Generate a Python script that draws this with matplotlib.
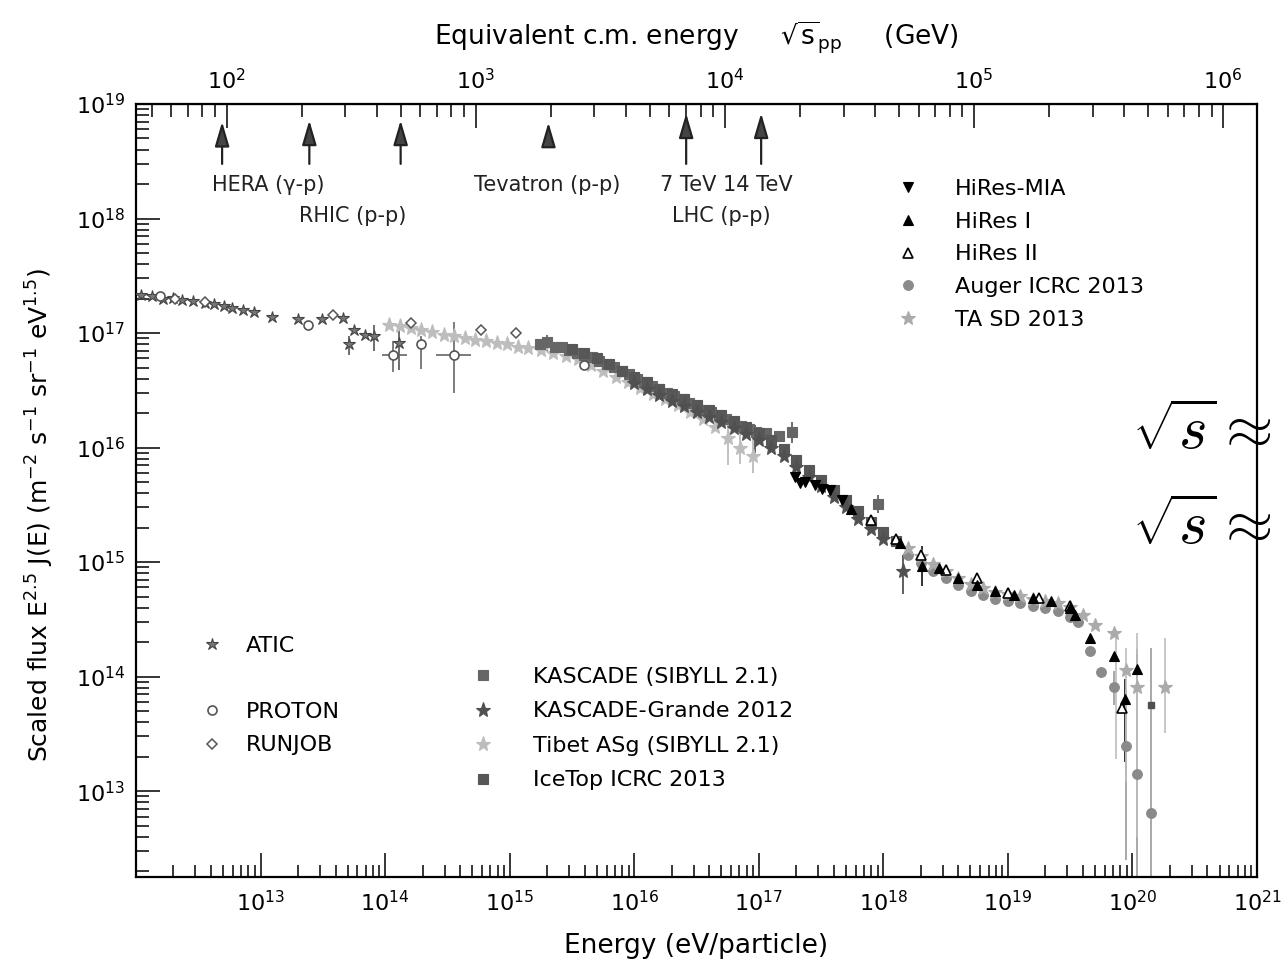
import numpy as np
import matplotlib
matplotlib.use('Agg')
import matplotlib.pyplot as plt
from matplotlib.lines import Line2D
from matplotlib.ticker import LogLocator, NullFormatter, FuncFormatter

plt.rcParams['font.family'] = ['DejaVu Sans']
plt.rcParams['mathtext.fontset'] = 'dejavusans'

# ---------------- data: log10(E / eV) and log10(E^2.5 J(E)) ----------------
atic_logE = [12.04, 12.13, 12.22, 12.30, 12.37, 12.46, 12.55, 12.63, 12.71, 12.77, 12.86, 12.95,
             13.09, 13.30, 13.49, 13.66, 13.71, 13.75, 13.84, 13.91, 14.11]
atic_logF = [17.33, 17.32, 17.30, 17.31, 17.29, 17.28, 17.26, 17.25, 17.24, 17.22, 17.20, 17.18,
             17.14, 17.12, 17.12, 17.13, 16.90, 17.03, 16.98, 16.97, 16.91]
atic_err_logE = [13.71, 13.91, 14.11]
atic_err_hi = [16.97, 17.07, 17.06]
atic_err_lo = [16.81, 16.84, 16.68]

proton_logE = [12.19, 13.38, 14.06, 14.29, 14.55, 15.60]
proton_logF = [17.32, 17.07, 16.81, 16.90, 16.81, 16.72]
proton_err_logE = [14.06, 14.29, 14.55]
proton_err_hi = [16.93, 16.97, 17.10]
proton_err_lo = [16.66, 16.69, 16.48]
proton_xerr_logF = [16.81, 16.81]
proton_xerr_lo = [13.975, 14.41]
proton_xerr_hi = [14.175, 14.69]

runjob_logE = [12.31, 12.55, 13.58, 14.21, 14.77, 15.05]
runjob_logF = [17.30, 17.27, 17.16, 17.09, 17.03, 17.00]

tibet_logE = [14.03, 14.12, 14.21, 14.29, 14.38, 14.47, 14.55, 14.64, 14.72, 14.81, 14.90, 14.98,
              15.07, 15.15, 15.25, 15.35, 15.45, 15.55, 15.65, 15.75, 15.85, 15.95, 16.05, 16.15,
              16.25, 16.35, 16.45, 16.55, 16.65, 16.75, 16.85, 16.95]
tibet_logF = [17.07, 17.06, 17.04, 17.03, 17.01, 16.98, 16.97, 16.96, 16.94, 16.93, 16.91, 16.90,
              16.88, 16.87, 16.85, 16.83, 16.80, 16.77, 16.72, 16.67, 16.62, 16.57, 16.52, 16.47,
              16.42, 16.37, 16.31, 16.25, 16.18, 16.08, 16.00, 15.93]
tibet_err_logE = [16.75, 16.85, 16.95]
tibet_err_hi = [16.23, 16.16, 16.10]
tibet_err_lo = [15.85, 15.86, 15.78]

kascade_logE = [15.24, 15.30, 15.36, 15.42, 15.48, 15.54, 15.60, 15.66, 15.72, 15.78, 15.84, 15.90,
                15.96, 16.02, 16.08, 16.14, 16.20, 16.26, 16.32, 16.38, 16.44, 16.50, 16.56, 16.62,
                16.68, 16.74, 16.80, 16.86, 16.92, 16.98, 17.06, 17.16, 17.27, 17.96]
kascade_logF = [16.90, 16.92, 16.88, 16.88, 16.85, 16.83, 16.81, 16.79, 16.76, 16.73, 16.70, 16.67,
                16.64, 16.60, 16.57, 16.54, 16.51, 16.48, 16.45, 16.42, 16.39, 16.36, 16.33, 16.31,
                16.28, 16.25, 16.22, 16.19, 16.16, 16.14, 16.13, 16.10, 16.14, 15.51]
kascade_err_logE = [15.30, 17.27, 17.96]
kascade_err_hi = [16.98, 16.22, 15.59]
kascade_err_lo = [16.84, 16.04, 15.43]

icetop_logE = [15.5, 15.6, 15.7, 15.8, 15.9, 16.0, 16.1, 16.2, 16.3, 16.4, 16.5, 16.6, 16.7, 16.8,
               16.9, 17.0, 17.1, 17.2, 17.3, 17.4, 17.5, 17.6, 17.7, 17.8, 17.9, 18.0, 18.1]
icetop_logF = [16.86, 16.83, 16.78, 16.73, 16.67, 16.62, 16.57, 16.51, 16.47, 16.42, 16.37, 16.33,
               16.28, 16.23, 16.18, 16.13, 16.07, 15.99, 15.89, 15.80, 15.72, 15.63, 15.54, 15.45,
               15.35, 15.26, 15.18]

kg_logE = [16.0, 16.1, 16.2, 16.3, 16.4, 16.5, 16.6, 16.7, 16.8, 16.9, 17.0, 17.1, 17.2, 17.3,
           17.4, 17.5, 17.6, 17.7, 17.8, 17.9, 18.0, 18.16]
kg_logF = [16.56, 16.51, 16.46, 16.41, 16.36, 16.31, 16.27, 16.22, 16.17, 16.12, 16.07, 16.00,
           15.93, 15.83, 15.74, 15.66, 15.57, 15.48, 15.38, 15.29, 15.20, 14.92]
kg_err_logE = [16.97, 18.16]
kg_err_hi = [16.20, 15.06]
kg_err_lo = [15.95, 14.72]

hiresmia_logE = [17.29, 17.33, 17.37, 17.45, 17.51, 17.57, 17.67]
hiresmia_logF = [15.74, 15.69, 15.70, 15.67, 15.64, 15.63, 15.54]

hires1_logE = [17.74, 18.13, 18.31, 18.45, 18.60, 18.75, 18.90, 19.05, 19.20, 19.35, 19.50, 19.54,
               19.66, 19.85, 19.94, 20.04]
hires1_logF = [15.46, 15.17, 14.97, 14.95, 14.86, 14.80, 14.75, 14.71, 14.69, 14.66, 14.60, 14.54,
               14.34, 14.18, 13.80, 14.07]
hires1_err_logE = [18.31, 19.94, 20.04]
hires1_err_hi = [15.14, 13.98, 14.20]
hires1_err_lo = [14.79, 13.25, 13.92]

hires2_logE = [17.90, 18.10, 18.30, 18.50, 18.75, 19.00, 19.25, 19.50, 19.92]
hires2_logF = [15.37, 15.20, 15.06, 14.93, 14.86, 14.73, 14.69, 14.62, 13.73]

auger_logE = [18.2, 18.3, 18.4, 18.5, 18.6, 18.7, 18.8, 18.9, 19.0, 19.1, 19.2, 19.3, 19.4, 19.5,
              19.56, 19.66, 19.75, 19.85, 19.95, 20.04, 20.15]
auger_logF = [15.06, 14.99, 14.92, 14.86, 14.80, 14.75, 14.71, 14.68, 14.66, 14.64, 14.62, 14.60,
              14.57, 14.52, 14.48, 14.22, 14.04, 13.91, 13.39, 13.15, 12.81]
auger_err_logE = [19.85, 19.95, 20.04, 20.15]
auger_err_hi = [14.05, 13.89, 14.24, 14.25]
auger_err_lo = [13.75, 12.40, 11.90, 11.50]

ta_logE = [18.2, 18.3, 18.4, 18.5, 18.6, 18.7, 18.8, 18.9, 19.0, 19.1, 19.2, 19.3, 19.4, 19.5,
           19.6, 19.7, 19.85, 19.95, 20.04, 20.26]
ta_logF = [15.12, 15.05, 14.98, 14.92, 14.86, 14.81, 14.77, 14.74, 14.72, 14.70, 14.68, 14.66,
           14.64, 14.61, 14.54, 14.45, 14.38, 14.06, 13.91, 13.91]
ta_err_logE = [19.87, 19.95, 20.04, 20.26]
ta_err_hi = [14.41, 14.25, 14.38, 14.34]
ta_err_lo = [13.28, 13.08, 12.60, 13.51]

other_logE = [20.15]
other_logF = [13.75]

# colliders (sqrt(s) in GeV) and arrow extent (scaled flux units)
collider_sqrts = [96, 215, 500, 1960, 7000, 14000]
arrow_tip = [7.0e18, 7.2e18, 7.2e18, 6.9e18, 8.3e18, 8.3e18]
arrow_tail = [3.0e18, 3.0e18, 3.0e18, 5.2e18, 3.0e18, 3.0e18]
arrow_color = ['#aaaaaa', '#333333', '#333333', '#333333', '#333333', '#333333']

x_label = 'Energy (eV/particle)'
y_label = r'Scaled flux E$^{2.5}$ J(E) (m$^{-2}$ s$^{-1}$ sr$^{-1}$ eV$^{1.5}$)'
top_label = r'Equivalent c.m. energy     $\sqrt{\mathrm{s}}_{\mathrm{pp}}$     (GeV)'

# ---------------- figure ----------------
W, H = 1282, 960
fig = plt.figure(figsize=(W / 100, H / 100), dpi=100)
ax = fig.add_axes([136 / W, (H - 877) / H, 1121 / W, 773 / H])
ax.set_xscale('log')
ax.set_yscale('log')
ax.set_xlim(1e12, 1e21)
ax.set_ylim(10 ** 12.25, 1e19)

def P(a):
    return 10 ** np.asarray(a, dtype=float)

def errs(xs, lo, hi, color, lw=1.2):
    ax.vlines(P(xs), P(lo), P(hi), colors=color, lw=lw, zorder=2)

# error bars
errs(atic_err_logE, atic_err_lo, atic_err_hi, '#555555')
errs(proton_err_logE, proton_err_lo, proton_err_hi, '#666666')
ax.hlines(P(proton_xerr_logF), P(proton_xerr_lo), P(proton_xerr_hi), colors='#666666', lw=1.2, zorder=2)
errs(tibet_err_logE, tibet_err_lo, tibet_err_hi, '#b5b5b5')
errs(kascade_err_logE, kascade_err_lo, kascade_err_hi, '#555555')
errs(kg_err_logE, kg_err_lo, kg_err_hi, '#444444')
errs(hires1_err_logE, hires1_err_lo, hires1_err_hi, '#111111')
errs(auger_err_logE, auger_err_lo, auger_err_hi, '#9a9a9a')
errs(ta_err_logE, ta_err_lo, ta_err_hi, '#bdbdbd')

# series styles
st = {
    'ATIC': dict(marker='*', ms=9, mfc='#777777', mec='#444444'),
    'PROTON': dict(marker='o', ms=6.5, mfc='white', mec='#555555', mew=1.2),
    'RUNJOB': dict(marker='D', ms=5, mfc='white', mec='#555555', mew=1.1),
    'KASCADE (SIBYLL 2.1)': dict(marker='s', ms=7.5, mfc='#666666', mec='#666666'),
    'KASCADE-Grande 2012': dict(marker='*', ms=11, mfc='#505050', mec='#505050'),
    'Tibet ASg (SIBYLL 2.1)': dict(marker='*', ms=11, mfc='#bdbdbd', mec='#bdbdbd'),
    'IceTop ICRC 2013': dict(marker='s', ms=6.5, mfc='#575757', mec='#575757'),
    'HiRes-MIA': dict(marker='v', ms=7, mfc='black', mec='black'),
    'HiRes I': dict(marker='^', ms=7, mfc='black', mec='black'),
    'HiRes II': dict(marker='^', ms=7, mfc='white', mec='black', mew=1.2),
    'Auger ICRC 2013': dict(marker='o', ms=7, mfc='#8a8a8a', mec='#8a8a8a'),
    'TA SD 2013': dict(marker='*', ms=10, mfc='#ababab', mec='#ababab'),
}

def plot(name, xs, ys, z=3):
    s = st[name]
    ax.plot(P(xs), P(ys), linestyle='none', marker=s['marker'], ms=s['ms'],
            mfc=s['mfc'], mec=s['mec'], mew=s.get('mew', 0.8), zorder=z)

plot('Tibet ASg (SIBYLL 2.1)', tibet_logE, tibet_logF, 3)
plot('KASCADE (SIBYLL 2.1)', kascade_logE, kascade_logF, 4)
plot('IceTop ICRC 2013', icetop_logE, icetop_logF, 4)
plot('KASCADE-Grande 2012', kg_logE, kg_logF, 5)
plot('ATIC', atic_logE, atic_logF, 5)
plot('RUNJOB', runjob_logE, runjob_logF, 5)
plot('PROTON', proton_logE, proton_logF, 5)
plot('Auger ICRC 2013', auger_logE, auger_logF, 5)
plot('TA SD 2013', ta_logE, ta_logF, 5)
plot('HiRes II', hires2_logE, hires2_logF, 6)
plot('HiRes I', hires1_logE, hires1_logF, 6)
plot('HiRes-MIA', hiresmia_logE, hiresmia_logF, 6)
ax.plot(P(other_logE), P(other_logF), linestyle='none', marker='s', ms=5, mfc='#505050',
        mec='#505050', zorder=5)

# axes styling
for sp in ax.spines.values():
    sp.set_linewidth(1.6)
ax.tick_params(which='both', direction='in', top=False, right=False, width=1.1, labelsize=16)
ax.tick_params(which='major', length=17)
ax.tick_params(which='minor', length=9)
ax.tick_params(axis='x', pad=9)
ax.tick_params(axis='y', pad=8)
ax.xaxis.set_major_locator(LogLocator(base=10, numticks=20))
ax.xaxis.set_minor_locator(LogLocator(base=10, subs=np.arange(2, 10), numticks=20))
ax.yaxis.set_major_locator(LogLocator(base=10, numticks=20))
ax.yaxis.set_minor_locator(LogLocator(base=10, subs=np.arange(2, 10), numticks=20))
ax.xaxis.set_minor_formatter(NullFormatter())
ax.yaxis.set_minor_formatter(NullFormatter())

def pow_label(v, pos, skip_below=None):
    e = int(round(np.log10(v)))
    if skip_below is not None and e < skip_below:
        return ''
    return r'$\mathdefault{10^{%d}}$' % e

ax.xaxis.set_major_formatter(FuncFormatter(lambda v, p: pow_label(v, p, 13)))
ax.yaxis.set_major_formatter(FuncFormatter(lambda v, p: pow_label(v, p)))
ax.set_xlabel(x_label, fontsize=19, labelpad=13)
ax.set_ylabel(y_label, fontsize=18)
ax.yaxis.set_label_coords(-0.0715, 0.468)

# top axis: equivalent c.m. energy
def e_to_sqrts(E):
    return np.sqrt(np.abs(2 * 0.938 * np.asarray(E, dtype=float) * 1e-9))

def sqrts_to_e(s):
    return np.asarray(s, dtype=float) ** 2 / (2 * 0.938) * 1e9

secax = ax.secondary_xaxis('top', functions=(e_to_sqrts, sqrts_to_e))
secax.xaxis.set_major_locator(LogLocator(base=10, numticks=20))
secax.xaxis.set_minor_locator(LogLocator(base=10, subs=np.arange(2, 10), numticks=20))
secax.xaxis.set_minor_formatter(NullFormatter())
secax.tick_params(which='both', direction='in', width=1.1, labelsize=16, pad=8)
secax.tick_params(which='major', length=17)
secax.tick_params(which='minor', length=9)
secax.set_xlabel(top_label, fontsize=19, labelpad=17)

# collider arrows
for sq, tip, tail, c in zip(collider_sqrts, arrow_tip, arrow_tail, arrow_color):
    E = sqrts_to_e(sq)
    ax.annotate('', xy=(E, tip), xytext=(E, tail),
                arrowprops=dict(arrowstyle='-|>,head_length=0.75,head_width=0.22',
                                color=c, lw=1.6, mutation_scale=20,
                                fc='#444444', ec='#222222', shrinkA=0, shrinkB=0), zorder=7)

def axfrac(px, py):
    return (px - 136) / 1121, (877 - py) / 773

lab_kw = dict(transform=ax.transAxes, ha='center', va='center', fontsize=15, color='#222222')
ax.text(*axfrac(268, 185), 'HERA (γ-p)', **lab_kw)
ax.text(*axfrac(353, 216), 'RHIC (p-p)', **lab_kw)
ax.text(*axfrac(547, 185), 'Tevatron (p-p)', **lab_kw)
ax.text(*axfrac(726, 185), '7 TeV 14 TeV', **lab_kw)
ax.text(*axfrac(721, 216), 'LHC (p-p)', **lab_kw)

# legends
def handle(name):
    s = st[name]
    return Line2D([], [], linestyle='none', marker=s['marker'], ms=s['ms'], mfc=s['mfc'],
                  mec=s['mec'], mew=s.get('mew', 0.8), label=name)

leg_kw = dict(frameon=False, fontsize=16, handlelength=1.5, borderpad=0, borderaxespad=0,
              loc='upper left', markerscale=1.0)
names1 = ['HiRes-MIA', 'HiRes I', 'HiRes II', 'Auger ICRC 2013', 'TA SD 2013']
l1 = ax.legend(handles=[handle(n) for n in names1], bbox_to_anchor=axfrac(891, 179),
               handletextpad=1.37, labelspacing=0.57, **leg_kw)
ax.add_artist(l1)
names2 = ['KASCADE (SIBYLL 2.1)', 'KASCADE-Grande 2012', 'Tibet ASg (SIBYLL 2.1)', 'IceTop ICRC 2013']
l2 = ax.legend(handles=[handle(n) for n in names2], bbox_to_anchor=axfrac(466, 667),
               handletextpad=1.5, labelspacing=0.65, **leg_kw)
ax.add_artist(l2)
blank = Line2D([], [], linestyle='none', label=' ')
l3 = ax.legend(handles=[handle('ATIC'), blank, handle('PROTON'), handle('RUNJOB')],
               bbox_to_anchor=axfrac(195, 636), handletextpad=0.8, labelspacing=0.59, **leg_kw)

# overlaid slide text on the right
for yy in (432, 527):
    fig.text(1132 / W, 1 - yy / H, r'$\sqrt{s}\approx$', fontsize=44, math_fontfamily='cm',
             ha='left', va='center', color='black')

fig.savefig('out.png', dpi=100)
